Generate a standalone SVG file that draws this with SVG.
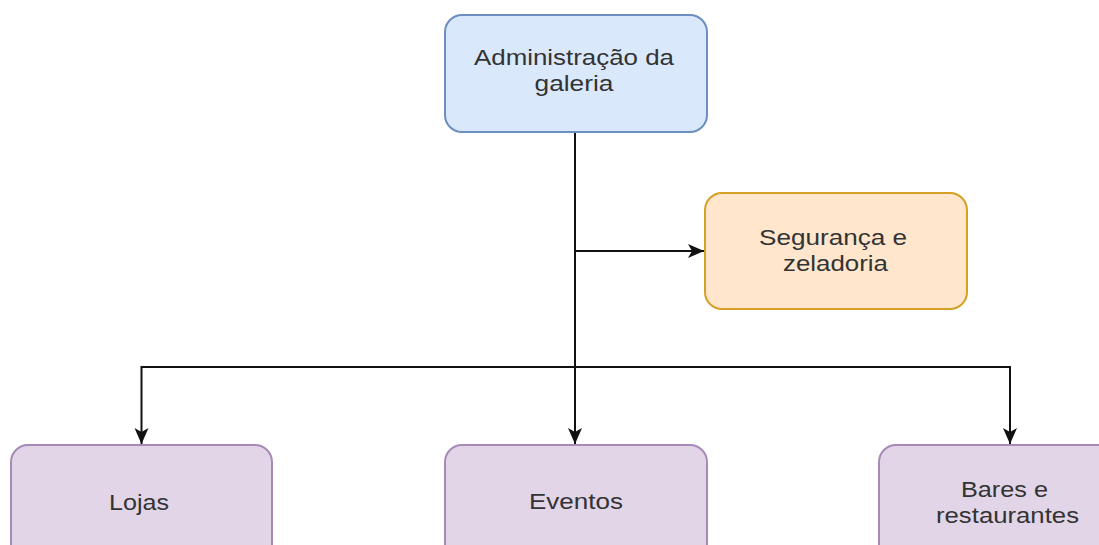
<svg xmlns="http://www.w3.org/2000/svg" width="1099" height="545" viewBox="0 0 1099 545">
<style>
.t{font-family:"Liberation Sans",Arial,sans-serif;font-size:22px;fill:#333;text-anchor:middle}
.c{fill:none;stroke:#111;stroke-width:2}
.blue{fill:#dae8fc;stroke:#6c8ebf;stroke-width:2}
.org{fill:#ffe6cc;stroke:#d6a025;stroke-width:2}
.pur{fill:#e1d5e7;stroke:#a88ab8;stroke-width:2}
</style>
<defs>
<marker id="arr" markerUnits="userSpaceOnUse" markerWidth="18" markerHeight="18" viewBox="0 0 18 18" refX="17" refY="9" orient="auto">
<path d="M1,2 L17,9 L1,16 L5,9 Z" fill="#111"/>
</marker>
</defs>
<rect width="1099" height="545" fill="#fff"/>
<g id="connectors">
<path class="c" d="M575,132 V444" marker-end="url(#arr)"/>
<path class="c" d="M575,251 H704" marker-end="url(#arr)"/>
<path class="c" d="M575,367 H141.5 V444" marker-end="url(#arr)"/>
<path class="c" d="M575,367 H1010 V444" marker-end="url(#arr)"/>
</g>
<g id="admin">
<rect class="blue" x="445" y="15" width="262" height="117" rx="17"/>
<text class="t" x="574" y="65" textLength="200" lengthAdjust="spacingAndGlyphs">Administração da</text>
<text class="t" x="574" y="91" textLength="79" lengthAdjust="spacingAndGlyphs">galeria</text>
</g>
<g id="seguranca">
<rect class="org" x="705" y="193" width="262" height="116" rx="17"/>
<text class="t" x="833" y="245" textLength="148" lengthAdjust="spacingAndGlyphs">Segurança e</text>
<text class="t" x="835.5" y="271" textLength="105" lengthAdjust="spacingAndGlyphs">zeladoria</text>
</g>
<g id="lojas">
<rect class="pur" x="11" y="445" width="261" height="130" rx="17"/>
<text class="t" x="139" y="510" textLength="60" lengthAdjust="spacingAndGlyphs">Lojas</text>
</g>
<g id="eventos">
<rect class="pur" x="445" y="445" width="262" height="130" rx="17"/>
<text class="t" x="576" y="509" textLength="94" lengthAdjust="spacingAndGlyphs">Eventos</text>
</g>
<g id="bares">
<rect class="pur" x="879" y="445" width="262" height="130" rx="17"/>
<text class="t" x="1004.5" y="497" textLength="87" lengthAdjust="spacingAndGlyphs">Bares e</text>
<text class="t" x="1007.5" y="523" textLength="143" lengthAdjust="spacingAndGlyphs">restaurantes</text>
</g>
</svg>
